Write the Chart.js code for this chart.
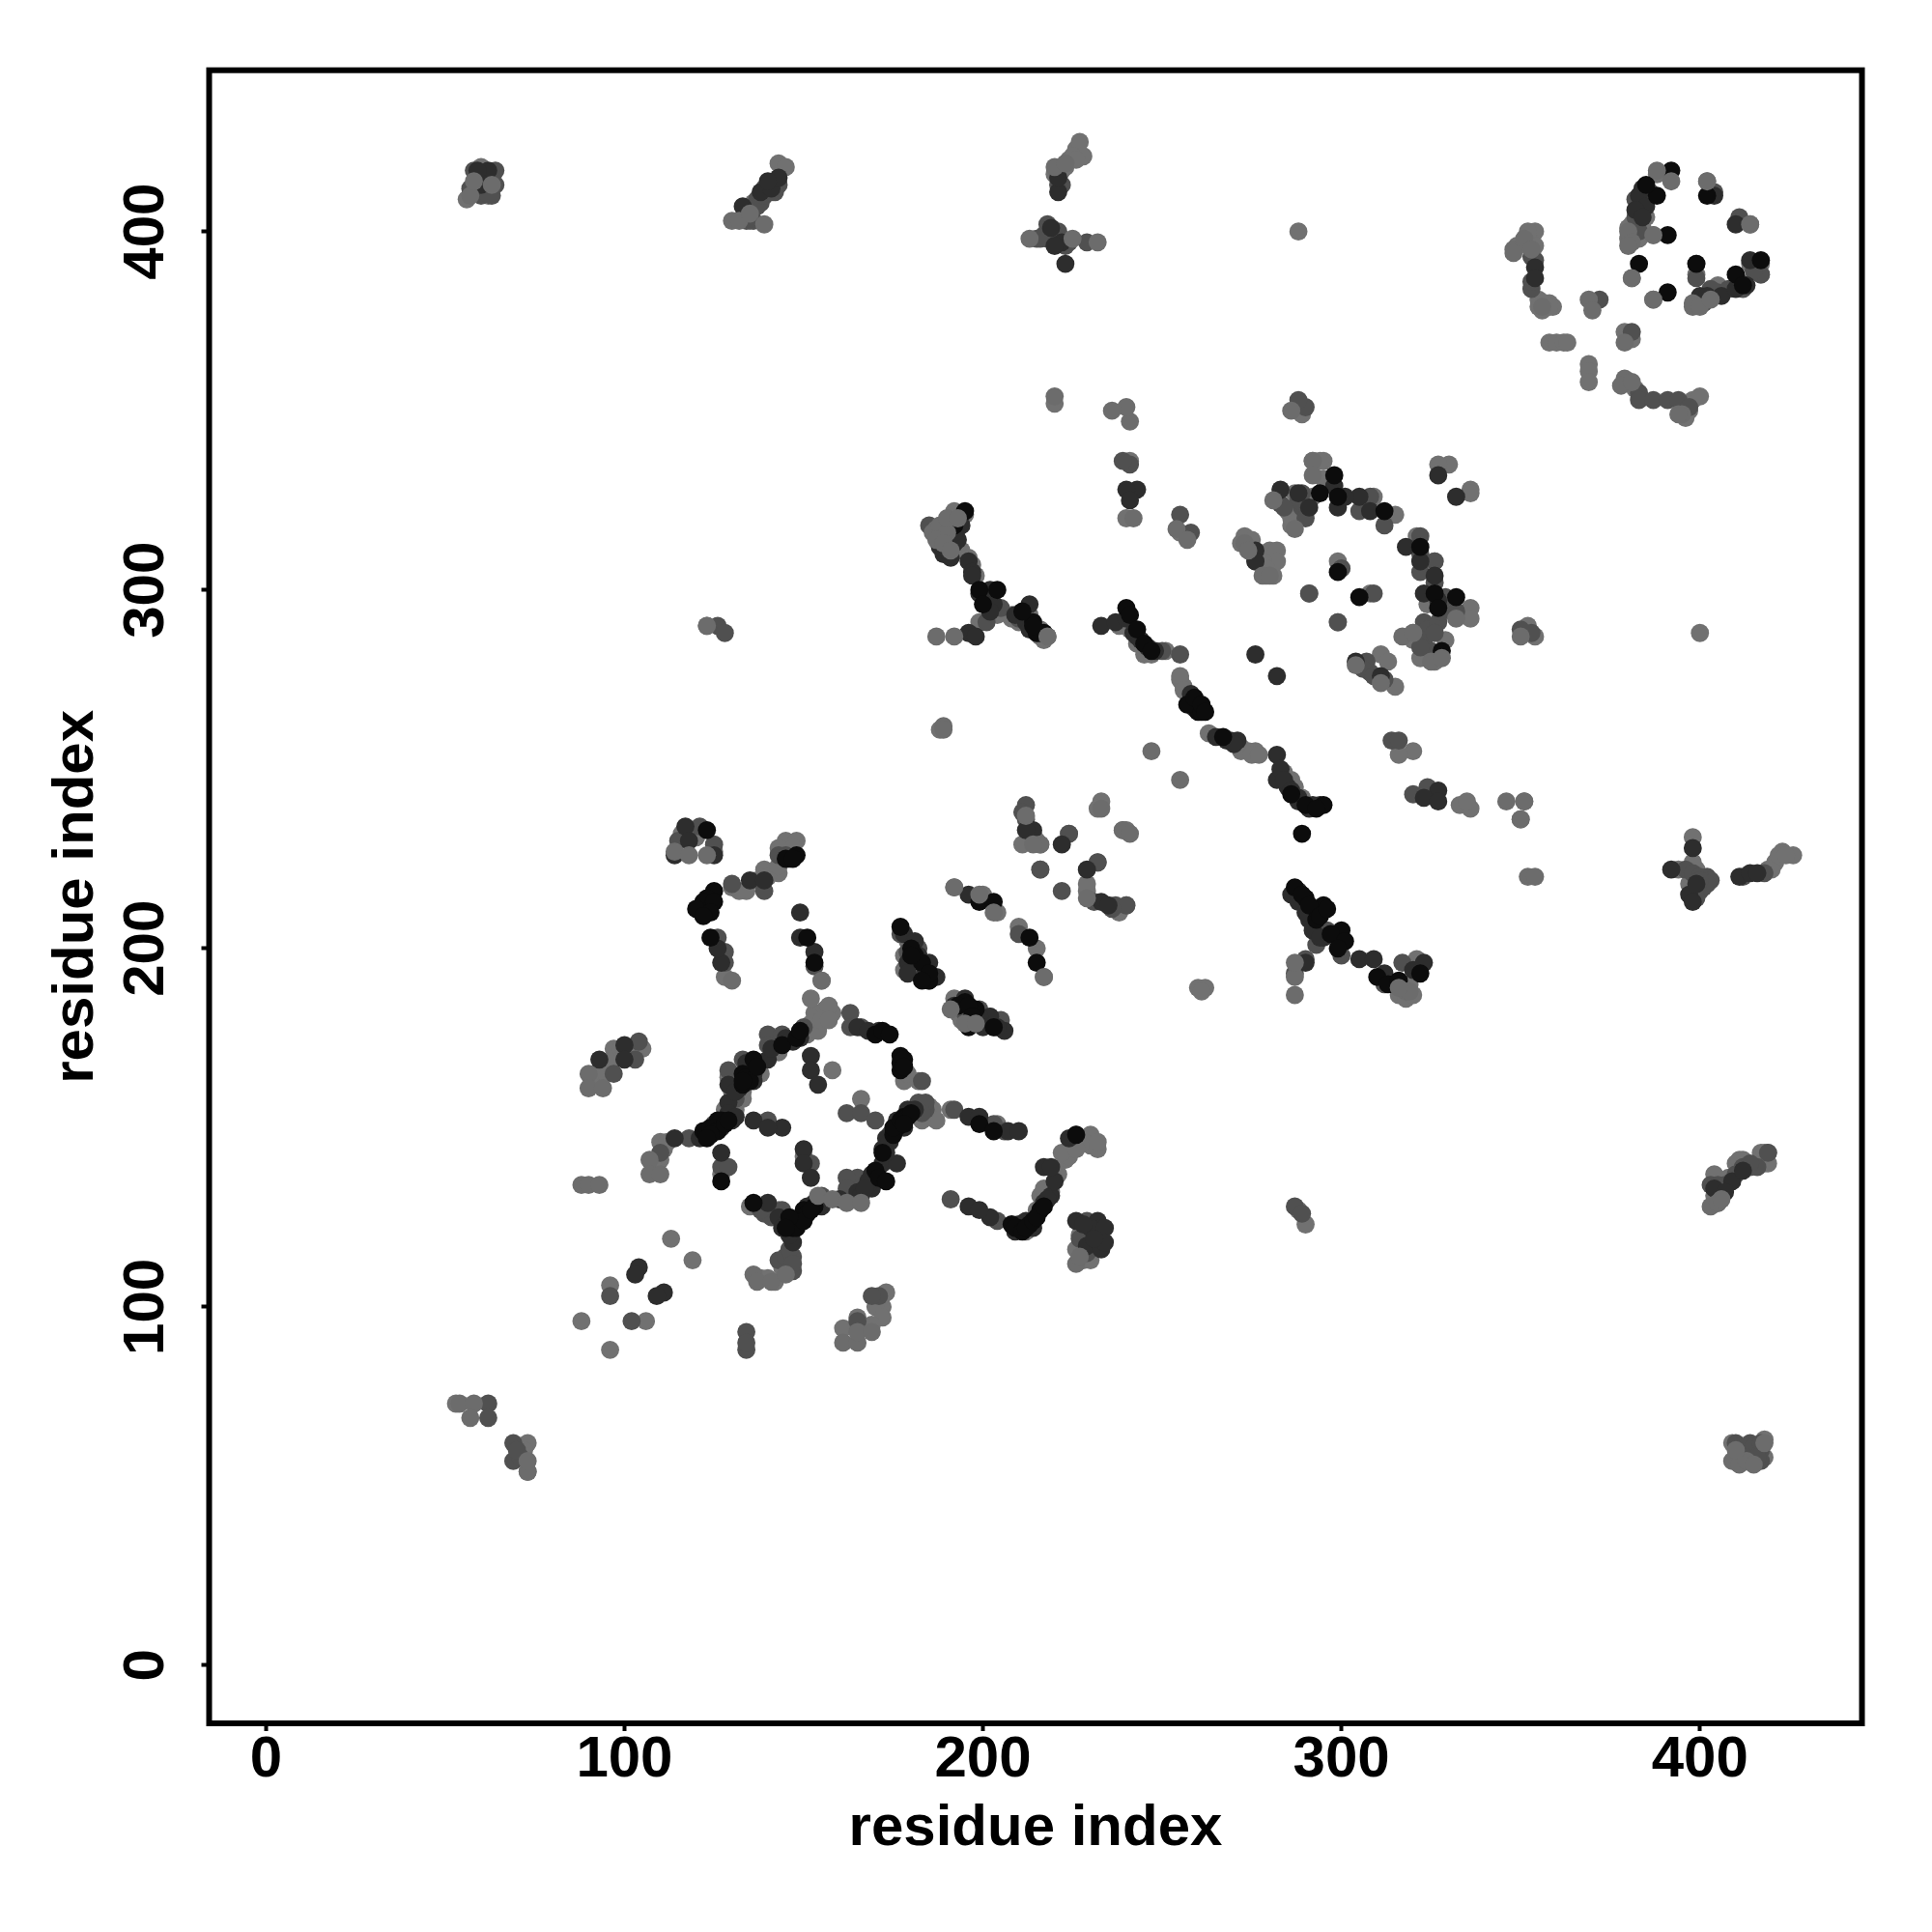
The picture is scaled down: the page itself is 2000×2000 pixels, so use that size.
<!DOCTYPE html>
<html><head><meta charset="utf-8">
<style>html,body{margin:0;padding:0;background:#fff}canvas{display:block}</style>
<script src="https://cdn.jsdelivr.net/npm/chart.js@4"></script>
</head><body>
<canvas id="c" width="2000" height="2000"></canvas>
<script>
const tickValues = [0,100,200,300,400];
const axisTitle = "residue index";

const greyBack = [
[57,410],[58,414],[63,413],[130,403],[132,403],[135,405],[139,402],[220,418],[223,419],[213,398],[225,398],[232,397],
[348,395],[348,394],[351,398],[353,395],[356,379],[369,381],[370,378],[379,369],[379,359],[378,357],[381,358],[395,349],[394,349],
[388,417],[392,414],[380,398],[387,399],[381,387],[387,381],[398,380],[402,414],[414,402],
[292,336],[292,332],[281,325],[287,317],[273,313],[274,311],[278,304],[280,304],[304,279],[311,274],[317,287],[320,288],[325,280],[328,281],[332,292],
[229,214],[212,237],[216,229],[214,229],[233,239],[239,233],[241,232],[192,217],[199,215],[203,210],[191,183],[195,179],[198,179],[217,192],
[90,165],[90,161],[94,161],[107,141],[107,137],[110,137],[88,134],[90,134],[93,134],[114,227],[118,226],[123,226],[161,90],[165,90],[165,93],[169,93],
[136,109],[137,107],[141,107],[145,109],[154,131],[158,130],[162,129],[166,129],[226,112],[227,114],[130,191],[155,191],
[403,128],[405,129],[406,130],[409,57],[411,56],[413,57],[410,60],[415,56],[418,62],[54,73],[58,73],[57,69],[73,54],[73,57],
[287,187],[287,192],[287,196],[318,188],[319,188],[316,189],[255,247],[247,255],[346,241],[351,241],[350,236],[352,220],[354,220],[350,287],[123,290],
[187,317],[187,287],[192,287],[218,287],[220,354],[189,262],[189,261],[241,347],[240,351],[236,350],[242,320],[254,317],[257,314],[286,350],
[186,316],[188,318],[190,316],[190,320],[193,320],[187,314],[189,313],[191,311],[380,400],[381,397],[380,396],[398,379],[400,379],[403,381]
];
const black = [
[123,233],[125,216],[123,214],[122,213],[120,211],[125,213],[124,210],[122,209],[148,226],[124,203],[151,203],[153,196],
[122,149],[123,148],[124,150],[126,152],[127,152],[133,162],[136,169],[133,165],[144,173],[148,175],[149,177],[170,176],[177,170],[177,166],
[127,135],[136,129],[150,127],[149,125],[148,124],[147,122],[151,126],[153,128],[176,150],[175,148],[178,153],
[199,213],[203,213],[213,203],[215,196],[181,198],[185,191],[195,185],[198,183],[203,178],[199,151],[203,149],[226,148],
[392,417],[388,410],[391,399],[385,413],[383,391],[391,383],[399,391],[402,410],[410,388],[417,392],[412,385],
[298,332],[294,327],[299,326],[312,322],[322,312],[326,299],[327,295],[332,298],[328,283],[299,305],[305,298],
[213,123],[210,122],[208,123],[216,127],[293,211],[290,214],[287,217],[295,212],[299,203],[300,205],[310,192],[315,190],[322,193],
[192,318],[195,322],[199,300],[204,300],[200,296],[214,291],[217,288],[240,295],[260,266],[257,268],[261,266],[267,259],[295,240],[289,232],[290,240],
[241,293],[243,289],[245,285],[247,283],[259,270],[261,268],[262,266],[286,243],[293,239],
[216,288],[215,288],[214,290],[211,294],
[177,206],[180,200],[183,196],[185,193],[183,191],[180,198],
[193,184],[196,184],[197,181],[196,178],
[125,150],[126,149],[128,151],[129,152],[124,148],[123,147],[134,164],[135,163],[137,167],[133,163],
[172,177],[174,176],[177,168],[178,169],[178,167],[175,150],[177,152],[179,153],[180,154],[178,151],
[172,143],[170,138],[171,136],[173,135],[147,124],[148,122],[150,124],[152,127],[146,125],[145,122],
[209,122],[211,121],[212,122],[214,124],[215,125],[217,128],[145,225],[147,225],
[313,190],[316,191],[289,215],[291,212],[293,208],[294,209],[296,211],[297,204],[301,202],[299,200]
];
const charcoal = [
[60,413],[62,417],[59,417],[133,407],[138,411],[141,412],[143,415],[140,414],[221,411],[221,415],[219,401],[223,391],[222,397],[220,396],
[117,234],[114,226],[118,230],[125,226],[135,219],[139,219],[127,196],[126,200],[149,210],[149,203],[153,199],
[93,169],[100,173],[100,169],[114,147],[129,157],[129,162],[132,161],[140,169],[136,165],
[152,170],[152,166],[154,162],[136,152],[144,150],[150,144],[150,140],[152,136],[127,143],[169,137],[165,132],[169,133],[172,140],[176,140],[172,144],[140,150],
[104,111],[103,109],[111,104],[109,103],[147,118],[143,125],[140,129],[145,123],
[196,215],[202,181],[206,177],[196,153],[199,153],[207,149],[210,149],[214,233],[212,233],[222,229],[233,213],[235,212],[229,222],
[354,390],[354,387],[384,412],[383,410],[385,407],[382,406],[384,404],[400,382],[402,382],[406,382],[410,384],[414,392],[413,385],[404,410],[410,402],
[283,328],[276,311],[276,308],[288,327],[291,323],[298,329],[305,326],[308,322],[299,323],[301,326],[318,312],[322,308],[326,304],[323,299],[327,297],[304,280],[311,276],[276,282],[282,276],[327,332],[332,326],
[226,124],[232,124],[233,122],[229,117],[233,117],[202,125],[196,128],[199,127],[219,131],[220,135],
[288,216],[291,208],[295,203],[290,196],[305,197],[309,197],[312,193],[320,194],[323,196],
[189,310],[192,313],[196,308],[197,305],[209,293],[213,296],[233,290],[237,291],[243,287],[269,258],[271,258],[282,254],[285,245],[288,242],[292,240],[282,247],
[243,328],[240,328],[241,325],[327,244],[323,242],[327,241],[397,215],[398,213],[399,218],[392,222],[398,228],[411,220],[414,221],[416,221],[409,135],[412,138],[404,133],[407,132],
[240,292],[242,288],[244,286],[246,284],[248,283],[258,271],[259,267],[268,258],[270,257],[283,250],[284,247],[286,244],[288,241],[291,239],[294,240],[265,259],
[188,312],[191,309],[193,314],[194,318],[192,316],[197,304],[199,299],[202,300],[203,296],[196,288],[198,287],[202,294],[212,291],[213,289],
[178,204],[181,202],[182,198],[179,196],[185,196],[184,194],[187,192],[179,193],[192,184],[195,186],[199,181],[200,178],[204,178],
[121,147],[122,148],[127,150],[129,154],[130,152],[131,153],[131,160],[134,168],[136,163],[141,172],[145,175],[147,174],[149,175],
[165,178],[168,177],[171,177],[176,152],[179,155],[181,155],[173,147],[178,150],[166,131],[168,134],[174,146],[173,143],[168,135],[167,133],[160,130],
[146,120],[144,122],[151,128],[153,129],[155,128],[209,121],[210,123],[212,124],[214,122],[217,129],[218,130],[217,139],[224,147],[219,139],
[230,122],[234,122],[228,123],[233,116],[234,118],[231,119],[286,215],[288,213],[290,210],[292,205],[294,203]
];
const slate = [
[58,412],[60,410],[63,410],[61,415],[64,417],[134,403],[136,403],[137,409],[139,412],[142,414],[218,402],[217,399],[220,399],[224,397],[229,397],[215,398],
[121,234],[115,230],[125,229],[130,218],[139,216],[143,226],[145,226],[126,203],[128,199],[128,196],[153,195],
[97,165],[104,174],[103,169],[110,143],[118,147],[125,151],[129,166],[131,158],[133,169],[140,176],[144,176],[140,173],[150,178],[163,182],[163,178],[166,178],
[162,154],[166,154],[170,152],[140,152],[152,140],[127,139],[129,139],[182,157],[184,155],[174,148],[165,136],[162,136],[162,133],[155,131],
[96,103],[102,96],[134,93],[134,88],[134,90],[165,96],[171,103],[169,103],[144,127],[143,113],[145,114],[147,114],[147,110],
[199,183],[195,182],[205,180],[192,155],[203,151],[206,149],[212,240],[216,222],[222,216],[224,232],[232,224],[237,212],[240,212],[210,204],[183,163],[184,157],[183,154],
[353,393],[353,384],[372,381],[381,372],[383,355],[383,353],[387,353],[391,353],[394,353],[397,351],[399,391],[399,387],[401,380],[411,404],[417,388],[404,411],[383,400],
[276,308],[283,324],[289,323],[289,327],[305,322],[308,326],[312,318],[322,305],[326,308],[322,315],[329,298],[332,294],[323,291],[324,289],[327,291],[323,286],[325,283],[307,280],[308,277],[291,299],[299,291],[309,299],[300,306],
[229,124],[229,115],[227,119],[233,119],[191,130],[204,124],
[290,197],[296,205],[287,193],[300,198],[293,201],[317,196],[312,190],
[185,318],[205,295],[201,291],[210,292],[250,283],[255,282],[241,335],[239,336],[255,321],[258,316],[290,351],[288,353],[320,243],[324,245],[314,258],[316,258],[350,289],[353,288],
[396,222],[400,216],[401,219],[402,220],[403,219],[418,221],[419,143],[414,139],[416,139],[417,60],[410,62],[414,62],[417,57],[415,59],[69,62],[69,57],[62,73],[62,69],[287,128],[289,126],[126,290],[128,288],
[191,319],[190,315],[177,204],[179,199],[182,200],[185,191],[139,126],[141,125],[138,127],[146,116],[147,112],
[354,392],[353,386],[382,404],[384,409],[386,411],[382,409],[405,383],[408,384],[411,386],[412,384],[415,389],[403,384],
[398,221],[400,220],[401,217],[402,218],[399,214],[400,219],[412,220],[216,398],[218,398],[221,400],[222,398],[223,396],[221,413],[222,413],
[137,407],[138,408],[139,410],[141,411],[143,413],[142,411],[57,412],[59,412],[59,415],[61,411],[58,417],[64,413],[71,58],[70,60],
[288,325],[284,323],[290,320],[322,310],[326,302],[328,294],[322,284],[326,288],[306,278],[309,276],[312,275],[211,238],[212,236],[231,213],[236,211],
[403,134],[405,134],[407,134],[410,137],[412,139],[414,140],[411,61],[413,61],[415,61],[417,62],[411,58],[413,58],[416,58]
];
const greyFront = [
[62,410],[60,416],[136,408],[143,419],[145,418],[224,420],[226,423],[227,425],[228,421],[222,417],[218,400],
[116,232],[120,231],[125,227],[145,230],[148,230],[139,222],[143,221],[130,217],[128,192],[155,191],
[97,172],[104,172],[100,171],[96,168],[93,165],[110,146],[110,141],[109,138],[129,156],[130,153],[131,155],[133,160],
[153,182],[156,183],[158,182],[154,179],[157,184],[152,186],[166,158],[158,166],[178,163],[182,163],[184,156],[185,153],[143,127],[139,128],[135,128],[127,137],[150,142],
[113,119],[119,113],[96,106],[88,96],[106,96],[96,88],[173,104],[172,100],[170,100],[172,97],[169,95],[165,97],[161,94],
[192,217],[200,215],[204,210],[210,206],[215,200],[217,192],[192,186],[198,180],[202,181],[203,178],[184,192],[186,192],[180,194],[179,202],[191,155],[204,151],[211,229],[216,229],[224,232],[233,241],[232,239],[232,224],[229,216],[229,218],[216,222],[240,212],[240,233],
[354,400],[352,399],[351,397],[349,396],[354,396],[357,380],[358,380],[359,379],[355,381],[358,369],[360,369],[362,369],[363,369],[369,363],[369,361],[369,358],[370,380],[379,372],[381,370],[380,358],[382,356],[398,353],[400,354],[397,350],[396,348],
[388,416],[402,414],[414,402],[387,399],[381,387],[387,381],[385,404],[383,398],[399,388],[401,381],[414,391],[417,388],[405,385],
[295,336],[292,336],[299,308],[300,306],[291,299],[308,299],[299,291],[273,315],[280,311],[282,311],[281,304],[279,304],[282,308],[287,327],[285,322],[286,318],[330,335],[327,335],[336,328],[336,327],[336,295],[336,292],[332,293],[321,315],[326,308],[315,321],[309,326],[315,273],[311,282],[325,282],[323,290],[320,288],
[400,288],[288,400],[260,189],[262,189],[261,188],[255,275],[256,273],[257,271],[272,256],[274,255],[276,255],[263,260],
[290,123],[288,127],[123,290],[220,352],[188,261],[204,293],[190,313],[192,322],[208,293],[213,293],[216,289],[218,287],[240,320],[241,336],[255,316],[257,315],[289,349],[320,255],[316,254],[333,240],[336,239],[335,241],[352,290],[354,287],[351,241],[350,236],
[398,231],[421,224],[423,227],[426,226],[419,222],[399,222],[419,143],[418,140],[404,137],[405,129],[412,141],[417,143],[53,73],[73,54],[73,62],[412,57],[416,60],[239,233],[231,146],[226,148],[230,145],[223,141],[221,137],[230,148],
[238,290],[241,289],[243,285],[245,282],[247,282],[251,283],[255,276],[256,272],[258,270],[272,255],[275,254],[277,254],[284,249],[286,247],[287,245],[289,242],
[195,321],[194,311],[196,309],[197,307],[198,304],[197,288],[199,291],[203,294],[208,292],[210,291],[212,292],[214,289],[216,287],[217,286],
[181,201],[178,198],[178,194],[193,182],[194,180],[201,179],[205,178],
[128,155],[130,158],[131,162],[129,164],[130,160],[133,158],[138,165],[134,166],[138,168],[143,171],[151,176],[152,179],[154,177],[155,180],[157,180],
[182,155],[185,156],[186,155],[187,152],[183,152],[179,165],[138,108],[140,108],[142,107],[144,111],[146,110],
[212,121],[215,127],[219,132],[216,131],[217,133],[224,142],[222,143],[228,146],[226,144],[232,144],[232,146],[228,113],[227,120],[230,113],[226,116],
[134,216],[137,219],[140,220],[143,223],[146,225],[132,216],[147,228],[143,228],[91,163],[93,166],[95,165],[97,169],[99,172],[102,171],[105,172],[103,171],[100,171],[108,139],[111,144],[112,146],
[355,379],[356,378],[358,379],[352,400],[380,401],[381,402],[384,401],[400,380],[403,382],[417,391],
[394,222],[397,218],[398,224],[420,222],[422,226],[424,226],[220,416],[223,418],[225,421],[226,420],[133,404],[135,403],[140,413],[56,409],[60,418],[63,415],[72,60],
[286,320],[292,326],[294,336],[295,331],[278,308],[279,306],[272,313],[275,314],[324,296],[330,296],[320,286],[329,286],[322,281],[326,280],[313,280],
[316,187],[318,186],[320,187],[319,190],[322,195],[321,197],[214,232],[215,230],[238,210],
[408,136],[404,131],[406,132],[417,141],[419,140],[418,143],[410,140],[411,141],[416,140],[409,62],[418,58],[418,63]
];

const seriesList = [
  {data: greyBack, colour: "#6c6c6c"},
  {data: black, colour: "#0c0c0c"},
  {data: charcoal, colour: "#2d2d2d"},
  {data: slate, colour: "#505050"},
  {data: greyFront, colour: "#717171"}
];

const boxPlugin = {
  id: "box",
  afterDraw(chart) {
    const a = chart.chartArea, g = chart.ctx;
    g.save();
    g.strokeStyle = "#000";
    g.lineWidth = 6;
    g.strokeRect(a.left, a.top, a.right - a.left, a.bottom - a.top);
    g.restore();
  }
};

new Chart(document.getElementById("c"), {
  type: "scatter",
  data: {
    datasets: seriesList.map(s => ({
      data: s.data.map(p => ({x: p[0], y: p[1]})),
      backgroundColor: s.colour,
      borderWidth: 0,
      pointRadius: 9.4,
      pointHoverRadius: 9.4
    }))
  },
  plugins: [boxPlugin],
  options: {
    responsive: false,
    animation: false,
    layout: {padding: {left: 0, top: 72.7, right: 72.5, bottom: 0}},
    plugins: {legend: {display: false}, tooltip: {enabled: false}},
    scales: {
      x: {
        type: "linear", min: -15.85, max: 445.2,
        afterFit: s => { s.height = 216; },
        afterBuildTicks: s => { s.ticks = tickValues.map(v => ({value: v})); },
        border: {display: false},
        grid: {drawOnChartArea: false, color: "#000", tickColor: "#000", tickWidth: 4, tickLength: 8},
        ticks: {color: "#000", padding: 0, maxRotation: 0, minRotation: 0,
                font: {family: "'Liberation Sans'", size: 60, weight: "bold", lineHeight: 1}},
        title: {display: true, text: axisTitle, color: "#000", padding: {top: 0, bottom: 71},
                font: {family: "'Liberation Sans'", size: 60, weight: "bold", lineHeight: 1.2}}
      },
      y: {
        type: "linear", min: -16.2, max: 445,
        afterFit: s => { s.width = 216.5; },
        afterBuildTicks: s => { s.ticks = tickValues.map(v => ({value: v})); },
        border: {display: false},
        grid: {drawOnChartArea: false, color: "#000", tickColor: "#000", tickWidth: 4, tickLength: 8},
        ticks: {color: "#000", padding: 6, minRotation: 90, maxRotation: 90, crossAlign: "center",
                font: {family: "'Liberation Sans'", size: 60, weight: "bold", lineHeight: 1}},
        title: {display: true, text: axisTitle, color: "#000", padding: {top: 43, bottom: 0},
                font: {family: "'Liberation Sans'", size: 60, weight: "bold", lineHeight: 1.2}}
      }
    }
  }
});
</script>
</body></html>
